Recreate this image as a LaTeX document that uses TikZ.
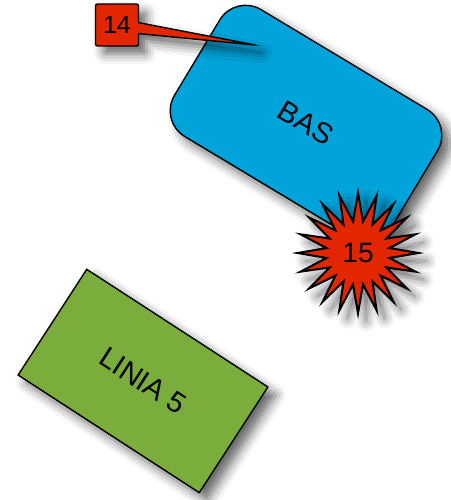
\documentclass[tikz,border=0pt]{standalone}
\usepackage{fontspec}
\setmainfont{Liberation Sans}
\usetikzlibrary{shapes.geometric,shapes.callouts,shadows.blur}
\definecolor{basblue}{RGB}{0,163,218}
\definecolor{burstred}{RGB}{225,38,0}
\definecolor{liniagreen}{RGB}{122,173,59}
\tikzset{
	shade/.style={blur shadow={shadow xshift=8pt,shadow yshift=-8pt,shadow blur radius=10pt,shadow opacity=60}},
	zone/.style={draw=black,line width=1.4pt,shade,inner sep=0pt,font=\fontsize{29}{32}\selectfont},
	tag/.style={draw=black,line width=1.4pt,fill=burstred,shade,inner sep=0pt}
}
\begin{document}
\begin{tikzpicture}[x=1pt,y=-1pt]
				\useasboundingbox (0,0) rectangle (450,500);
				\node[zone,fill=liniagreen,minimum width=216pt,minimum height=126pt,rotate=-33] (linia) at (143,381) {LINIA 5};
				\node[zone,fill=basblue,rounded corners=30pt,minimum width=254pt,minimum height=148pt,rotate=-31] (bas) at (306,123) {BAS};
				\coordinate (tip) at (255,45);
				\node[tag,rectangle callout,rounded corners=2pt,callout absolute pointer={(tip)},callout pointer width=11pt,minimum width=43pt,minimum height=42pt,font=\fontsize{25}{27}\selectfont] (n14) at (117,25) {14};
				\node[tag,star,star points=20,star point ratio=1.9,minimum size=121pt,line width=2pt,font=\fontsize{28}{30}\selectfont] (n15) at (358,253) {15};
	\end{tikzpicture}
\end{document}
